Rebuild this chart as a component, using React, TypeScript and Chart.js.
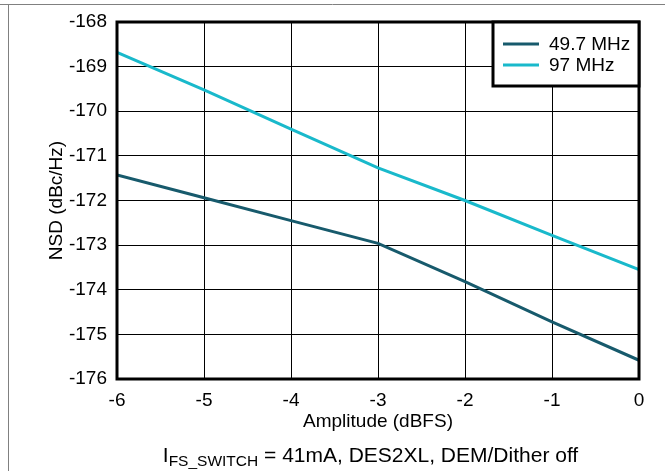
import React, { useEffect, useRef } from "react";
import { Chart, registerables } from "chart.js";

Chart.register(...registerables);

const amplitudes = [-6, -5, -4, -3, -2, -1, 0];
const nsd497 = [-171.43, -171.94, -172.45, -172.96, -173.82, -174.72, -175.58];
const nsd97 = [-168.68, -169.52, -170.4, -171.27, -172.0, -172.78, -173.55];
const seriesNames = ["49.7 MHz", "97 MHz"];
const seriesColors = ["#175a6c", "#19b9cb"];
const xTitle = "Amplitude (dBFS)";
const yTitle = "NSD (dBc/Hz)";
const noteMain = "I";
const noteSub = "FS_SWITCH";
const noteRest = " = 41mA, DES2XL, DEM/Dither off";

const FONT = "'Liberation Sans', Arial, sans-serif";

const decorPlugin = {
  id: "decor",
  afterDraw(chart: any) {
    const ctx = chart.ctx as CanvasRenderingContext2D;
    const a = chart.chartArea;
    ctx.save();
    // outer frame
    ctx.strokeStyle = "#808080";
    ctx.lineWidth = 1;
    ctx.beginPath();
    ctx.moveTo(0, 4.5);
    ctx.lineTo(chart.width, 4.5);
    ctx.moveTo(8.5, 4.5);
    ctx.lineTo(8.5, chart.height);
    ctx.stroke();

    // plot border
    ctx.strokeStyle = "#000";
    ctx.lineWidth = 3;
    ctx.strokeRect(a.left, a.top, a.right - a.left, a.bottom - a.top);

    // legend
    const lx = 493, ly = 22, lw = 639 - 493, lh = 86 - 22;
    ctx.fillStyle = "#fff";
    ctx.fillRect(lx, ly, lw, lh);
    ctx.strokeRect(lx, ly, lw, lh);
    ctx.font = `19px ${FONT}`;
    ctx.textBaseline = "middle";
    ctx.textAlign = "left";
    const rows = [44, 65];
    seriesNames.forEach((name, i) => {
      ctx.strokeStyle = seriesColors[i];
      ctx.lineWidth = 3;
      ctx.beginPath();
      ctx.moveTo(503, rows[i]);
      ctx.lineTo(539, rows[i]);
      ctx.stroke();
      ctx.fillStyle = "#000";
      ctx.fillText(name, 549, rows[i] + 1);
    });

    // x title
    ctx.fillStyle = "#000";
    ctx.textAlign = "center";
    ctx.textBaseline = "alphabetic";
    ctx.font = `19px ${FONT}`;
    ctx.fillText(xTitle, (a.left + a.right) / 2, 427);

    // y title
    ctx.save();
    ctx.translate(62, (a.top + a.bottom) / 2);
    ctx.rotate(-Math.PI / 2);
    ctx.textAlign = "center";
    ctx.fillText(yTitle, 0, 0);
    ctx.restore();

    // note with subscript
    ctx.textAlign = "left";
    ctx.font = `21px ${FONT}`;
    const w1 = ctx.measureText(noteMain).width;
    const w3 = ctx.measureText(noteRest).width;
    ctx.font = `15.5px ${FONT}`;
    const w2 = ctx.measureText(noteSub).width;
    const total = w1 + w2 + w3;
    let x = 370.5 - total / 2;
    ctx.font = `21px ${FONT}`;
    ctx.fillText(noteMain, x, 462);
    x += w1;
    ctx.font = `15.5px ${FONT}`;
    ctx.fillText(noteSub, x, 466);
    x += w2;
    ctx.font = `21px ${FONT}`;
    ctx.fillText(noteRest, x, 462);
    ctx.restore();
  },
};

export default function App() {
  const ref = useRef<HTMLCanvasElement>(null);
  useEffect(() => {
    if (!ref.current) return;
    const chart = new Chart(ref.current, {
      type: "line",
      data: {
        labels: amplitudes,
        datasets: [
          {
            label: seriesNames[0],
            data: amplitudes.map((x, i) => ({ x, y: nsd497[i] })),
            borderColor: seriesColors[0],
            backgroundColor: seriesColors[0],
            borderWidth: 3,
            pointRadius: 0,
            tension: 0,
          },
          {
            label: seriesNames[1],
            data: amplitudes.map((x, i) => ({ x, y: nsd97[i] })),
            borderColor: seriesColors[1],
            backgroundColor: seriesColors[1],
            borderWidth: 3,
            pointRadius: 0,
            tension: 0,
          },
        ],
      },
      options: {
        responsive: false,
        animation: false,
        devicePixelRatio: 1,
        layout: { padding: { top: 22, right: 26, left: 0, bottom: 0 } },
        plugins: { legend: { display: false }, tooltip: { enabled: false } },
        scales: {
          x: {
            type: "linear",
            min: -6,
            max: 0,
            afterFit: (s: any) => { s.height = 92; },
            ticks: { stepSize: 1, padding: 10, color: "#000", font: { size: 19, family: FONT } },
            grid: { color: "#000", lineWidth: 1, drawTicks: false },
            border: { display: false },
          },
          y: {
            min: -176,
            max: -168,
            afterFit: (s: any) => { s.width = 117; },
            ticks: { stepSize: 1, padding: 10, color: "#000", font: { size: 19, family: FONT } },
            grid: { color: "#000", lineWidth: 1, drawTicks: false },
            border: { display: false },
          },
        },
      },
      plugins: [decorPlugin],
    } as any);
    return () => chart.destroy();
  }, []);
  return (
    <div style={{ position: "fixed", left: 0, top: 0, width: 665, height: 471, background: "#fff" }}>
      <canvas ref={ref} width={665} height={471} style={{ display: "block" }} />
    </div>
  );
}
